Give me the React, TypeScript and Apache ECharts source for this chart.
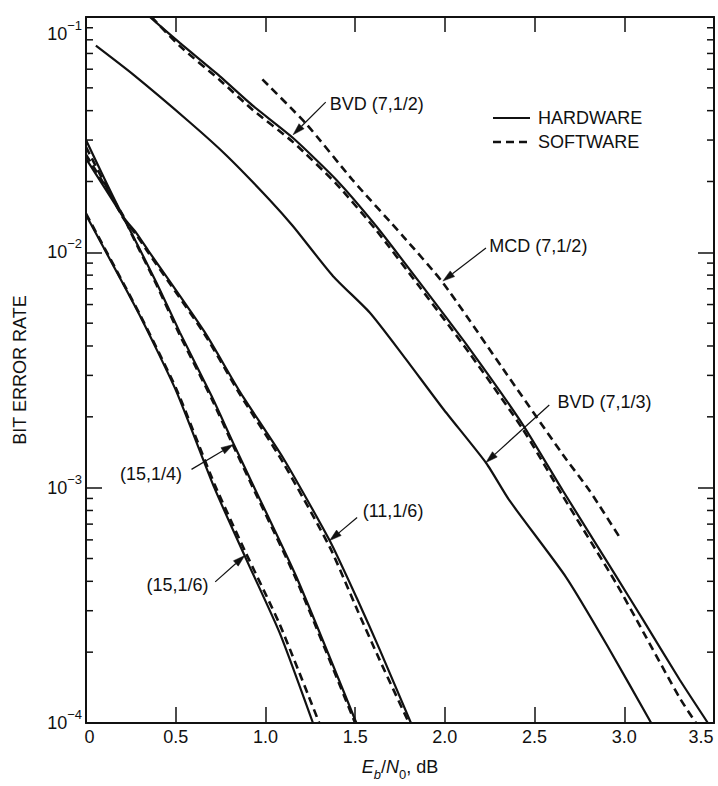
import React, { useEffect, useRef } from 'react';
import * as echarts from 'echarts';

const FONT = '"Liberation Sans", Arial, Helvetica, sans-serif';
const INK = '#111';

const X_MIN = 0;
const X_MAX = 3.5;
const X_STEP = 0.5;
const Y_MIN = 1e-4;
const Y_MAX = 1e-1;

const Y_MINOR_TICKS = [
  2e-4, 3e-4, 4e-4, 5e-4, 6e-4, 7e-4, 8e-4, 9e-4,
  2e-3, 3e-3, 4e-3, 5e-3, 6e-3, 7e-3, 8e-3, 9e-3,
  2e-2, 3e-2, 4e-2, 5e-2, 6e-2, 7e-2, 8e-2, 9e-2,
];

// BVD (7,1/2)
const BVD_7_12_HW: [number, number][] = [
  [0.356, 0.1], [0.523, 0.0776], [0.745, 0.0561], [0.931, 0.0419], [1.154, 0.0306],
  [1.396, 0.0203], [1.618, 0.0129], [1.86, 0.00743], [2.138, 0.00389], [2.435, 0.00185],
  [2.658, 0.00097], [2.955, 0.00042], [3.104, 0.000275], [3.308, 0.000153], [3.466, 0.0001],
];
const BVD_7_12_SW: [number, number][] = [
  [0.365, 0.1], [0.523, 0.0752], [0.745, 0.054], [0.931, 0.0402], [1.154, 0.0294],
  [1.396, 0.0195], [1.618, 0.0124], [1.86, 0.00712], [2.138, 0.00372], [2.435, 0.00177],
  [2.658, 0.00092], [2.955, 0.000392], [3.104, 0.000245], [3.308, 0.000128], [3.4, 0.0001],
];
// BVD (7,1/3)
const BVD_7_13_HW: [number, number][] = [
  [0.055, 0.0755], [0.262, 0.057], [0.578, 0.0357], [0.783, 0.0258], [1.024, 0.0167],
  [1.154, 0.0129], [1.377, 0.00792], [1.581, 0.00555], [1.767, 0.00365], [1.989, 0.00217],
  [2.231, 0.00127], [2.361, 0.00088], [2.675, 0.000417], [2.907, 0.000212], [3.15, 0.0001],
];
// MCD (7,1/2)
const MCD_7_12_SW: [number, number][] = [
  [0.983, 0.0543], [1.228, 0.0351], [1.488, 0.0202], [1.767, 0.0117], [1.989, 0.00743],
  [2.324, 0.0032], [2.658, 0.00138], [2.807, 0.00097], [2.983, 0.0006],
];
// (11,1/6)
const C_11_16_HW: [number, number][] = [
  [0, 0.03], [0.207, 0.0142], [0.28, 0.0121], [0.346, 0.0102], [0.66, 0.0046],
  [0.857, 0.00256], [1.098, 0.00134], [1.358, 0.000596], [1.514, 0.000333],
  [1.637, 0.000205], [1.811, 0.0001],
];
const C_11_16_SW: [number, number][] = [
  [0, 0.028], [0.207, 0.014], [0.28, 0.0119], [0.346, 0.01], [0.66, 0.0045],
  [0.857, 0.0025], [1.098, 0.00128], [1.358, 0.00056], [1.514, 0.0003],
  [1.637, 0.000185], [1.8, 0.0001],
];
// (15,1/4)
const C_15_14_HW: [number, number][] = [
  [0, 0.025], [0.207, 0.0141], [0.253, 0.0121], [0.393, 0.00743], [0.523, 0.00457],
  [0.7, 0.00245], [0.82, 0.00155], [0.925, 0.00105], [1.173, 0.000417], [1.507, 0.0001],
];
const C_15_14_SW: [number, number][] = [
  [0, 0.026], [0.207, 0.0143], [0.253, 0.012], [0.393, 0.00728], [0.523, 0.00445],
  [0.7, 0.00239], [0.82, 0.00151], [0.925, 0.00102], [1.173, 0.000405], [1.5, 0.0001],
];
// (15,1/6)
const C_15_16_HW: [number, number][] = [
  [0, 0.0144], [0.3, 0.00539], [0.504, 0.00256], [0.715, 0.001],
  [0.885, 0.000512], [1.08, 0.000241], [1.265, 0.0001],
];
const C_15_16_SW: [number, number][] = [
  [0, 0.0146], [0.3, 0.00545], [0.504, 0.00262], [0.715, 0.00104],
  [0.885, 0.00054], [1.08, 0.000262], [1.3, 0.0001],
];

const CURVES = [
  { id: 'bvd712hw', data: BVD_7_12_HW, sw: false },
  { id: 'bvd713hw', data: BVD_7_13_HW, sw: false },
  { id: 'c1116hw', data: C_11_16_HW, sw: false },
  { id: 'c1514hw', data: C_15_14_HW, sw: false },
  { id: 'c1516hw', data: C_15_16_HW, sw: false },
  { id: 'bvd712sw', data: BVD_7_12_SW, sw: true },
  { id: 'mcd712sw', data: MCD_7_12_SW, sw: true },
  { id: 'c1116sw', data: C_11_16_SW, sw: true },
  { id: 'c1514sw', data: C_15_14_SW, sw: true },
  { id: 'c1516sw', data: C_15_16_SW, sw: true },
];

const LEGEND_TEXTS = ['HARDWARE', 'SOFTWARE'];

const LABEL_TEXTS = ['BVD (7,1/2)', 'MCD (7,1/2)', 'BVD (7,1/3)', '(15,1/4)', '(15,1/6)', '(11,1/6)'];
const LABEL_AT: [number, number][] = [
  [1.358, 0.0426], [2.248, 0.01067], [2.628, 0.00232], [0.189, 0.001139], [0.337, 0.000385], [1.542, 0.000797],
];
const ARROW_FROM: [number, number][] = [
  [1.336, 0.0435], [2.229, 0.01043], [2.582, 0.002246], [0.588, 0.001196], [0.72, 0.000398], [1.511, 0.000747],
];
const ARROW_TO: [number, number][] = [
  [1.154, 0.0316], [1.989, 0.00755], [2.229, 0.00128], [0.82, 0.001524], [0.885, 0.000515], [1.358, 0.000596],
];

export default function App() {
  const ref = useRef<HTMLDivElement>(null);
  useEffect(() => {
    if (!ref.current) return;
    const chart = echarts.init(ref.current, null, { renderer: 'svg' });
    const txt = { fontFamily: FONT, color: INK };

    const lineSeries: any[] = CURVES.map((c) => ({
      type: 'line',
      id: c.id,
      name: c.sw ? 'SOFTWARE' : 'HARDWARE',
      data: c.data,
      symbol: 'none',
      showSymbol: false,
      smooth: 0.2,
      silent: true,
      z: c.sw ? 3 : 2,
      itemStyle: { color: INK },
      lineStyle: { color: INK, width: c.sw ? 2.6 : 2.2, type: c.sw ? [8, 5] : 'solid' },
      emphasis: { disabled: true },
    }));

    const minorSeries = {
      type: 'custom',
      name: 'minor',
      silent: true,
      clip: false,
      data: Y_MINOR_TICKS.map((v) => [X_MIN, v]),
      encode: { x: 0, y: 1 },
      renderItem: (params: any, api: any) => {
        const v = api.value(1);
        const l = api.coord([X_MIN, v]);
        const r = api.coord([X_MAX, v]);
        return {
          type: 'group',
          children: [
            { type: 'line', shape: { x1: l[0], y1: l[1], x2: l[0] + 7, y2: l[1] }, style: { stroke: INK, lineWidth: 1.5 } },
            { type: 'line', shape: { x1: r[0] - 7, y1: r[1], x2: r[0], y2: r[1] }, style: { stroke: INK, lineWidth: 1.5 } },
          ],
        };
      },
    };

    const axisLine = { show: true, onZero: false, lineStyle: { color: INK, width: 2 } };

    chart.setOption({
      animation: false,
      backgroundColor: '#fff',
      grid: { left: 86, right: 4, top: 12, bottom: 62 },
      xAxis: [
        {
          type: 'value', position: 'bottom', min: X_MIN, max: X_MAX, interval: X_STEP,
          name: '{i|E}{sb|b}{n|/}{i|N}{s0|0}{n|, dB}',
          nameLocation: 'middle', nameGap: 30,
          nameTextStyle: {
            ...txt,
            rich: {
              i: { fontSize: 18, fontStyle: 'italic', lineHeight: 28, ...txt },
              n: { fontSize: 18, lineHeight: 28, ...txt },
              sb: { fontSize: 13, fontStyle: 'italic', lineHeight: 13, verticalAlign: 'bottom', ...txt },
              s0: { fontSize: 13, lineHeight: 13, verticalAlign: 'bottom', ...txt },
            },
          },
          axisLine,
          axisTick: { show: true, inside: true, length: 16, lineStyle: { color: INK, width: 1.5 } },
          axisLabel: {
            margin: 5,
            formatter: (v: number) => (v === X_MIN ? '{f|0}' : v === X_MAX ? `{l|${v.toFixed(1)}}` : `{n|${v.toFixed(1)}}`),
            rich: {
              f: { fontSize: 18, padding: [0, 0, 0, 7], ...txt },
              l: { fontSize: 18, padding: [0, 26, 0, 0], ...txt },
              n: { fontSize: 18, ...txt },
            },
          },
          splitLine: { show: false },
        },
        {
          type: 'value', position: 'top', min: X_MIN, max: X_MAX, interval: X_STEP,
          axisLine,
          axisTick: { show: true, inside: true, length: 15, lineStyle: { color: INK, width: 1.5 } },
          axisLabel: { show: false },
          splitLine: { show: false },
        },
      ],
      yAxis: [
        {
          type: 'log', logBase: 10, min: Y_MIN, max: Y_MAX, position: 'left',
          name: 'BIT ERROR RATE', nameLocation: 'middle', nameGap: 57,
          nameTextStyle: { fontSize: 18, ...txt },
          axisLine,
          axisTick: { show: true, inside: true, length: 16, lineStyle: { color: INK, width: 1.5 } },
          axisLabel: {
            margin: 4,
            formatter: (v: number) => {
              const e = Math.round(Math.log10(v));
              const s = '\u2212' + Math.abs(e);
              return e === -1 ? `{sp| }\n{m|10}{s|${s}}` : `{m|10}{s|${s}}`;
            },
            rich: {
              m: { fontSize: 18, lineHeight: 30, ...txt },
              s: { fontSize: 13, lineHeight: 13, verticalAlign: 'top', ...txt },
              sp: { fontSize: 4, lineHeight: 34, ...txt },
            },
          },
          splitLine: { show: false },
        },
        {
          type: 'log', logBase: 10, min: Y_MIN, max: Y_MAX, position: 'right',
          axisLine,
          axisTick: { show: true, inside: true, length: 16, lineStyle: { color: INK, width: 1.5 } },
          axisLabel: { show: false },
          splitLine: { show: false },
        },
      ],
      series: [...lineSeries, minorSeries],
    });

    const finder = { xAxisIndex: 0, yAxisIndex: 0 } as any;
    const toPx = (p: [number, number]) => chart.convertToPixel(finder, p) as number[];
    const graphics: any[] = [];

    LABEL_TEXTS.forEach((t, k) => {
      const p = toPx(LABEL_AT[k]);
      graphics.push({
        type: 'text', x: p[0], y: p[1], silent: true,
        style: { text: t, fill: INK, fontSize: 18, fontFamily: FONT, align: 'left', verticalAlign: 'middle' },
      });
    });

    ARROW_FROM.forEach((f, k) => {
      const a = toPx(f);
      const b = toPx(ARROW_TO[k]);
      const dx = b[0] - a[0];
      const dy = b[1] - a[1];
      const len = Math.hypot(dx, dy) || 1;
      const ux = dx / len;
      const uy = dy / len;
      const headLen = 12;
      const halfW = 3.6;
      const bx = b[0] - ux * headLen;
      const by = b[1] - uy * headLen;
      graphics.push({
        type: 'line', silent: true,
        shape: { x1: a[0], y1: a[1], x2: bx, y2: by },
        style: { stroke: INK, lineWidth: 1.2 },
      });
      graphics.push({
        type: 'polygon', silent: true,
        shape: { points: [[b[0], b[1]], [bx - uy * halfW, by + ux * halfW], [bx + uy * halfW, by - ux * halfW]] },
        style: { fill: INK, stroke: INK, lineWidth: 0.5 },
      });
    });

    // key for the two line styles
    const legendX = 493;
    const legendY = [118, 142];
    LEGEND_TEXTS.forEach((t, k) => {
      graphics.push({
        type: 'line', silent: true,
        shape: { x1: legendX, y1: legendY[k], x2: legendX + 37, y2: legendY[k] },
        style: { stroke: INK, lineWidth: k === 0 ? 2.2 : 2.6, lineDash: k === 0 ? null : [8, 5] },
      });
      graphics.push({
        type: 'text', x: legendX + 45, y: legendY[k], silent: true,
        style: { text: t, fill: INK, fontSize: 18, fontFamily: FONT, align: 'left', verticalAlign: 'middle' },
      });
    });

    chart.setOption({ graphic: graphics });

    return () => chart.dispose();
  }, []);

  return (
    <div
      ref={ref}
      style={{ position: 'absolute', left: 0, top: 0, width: 718, height: 786, background: '#fff' }}
    />
  );
}
